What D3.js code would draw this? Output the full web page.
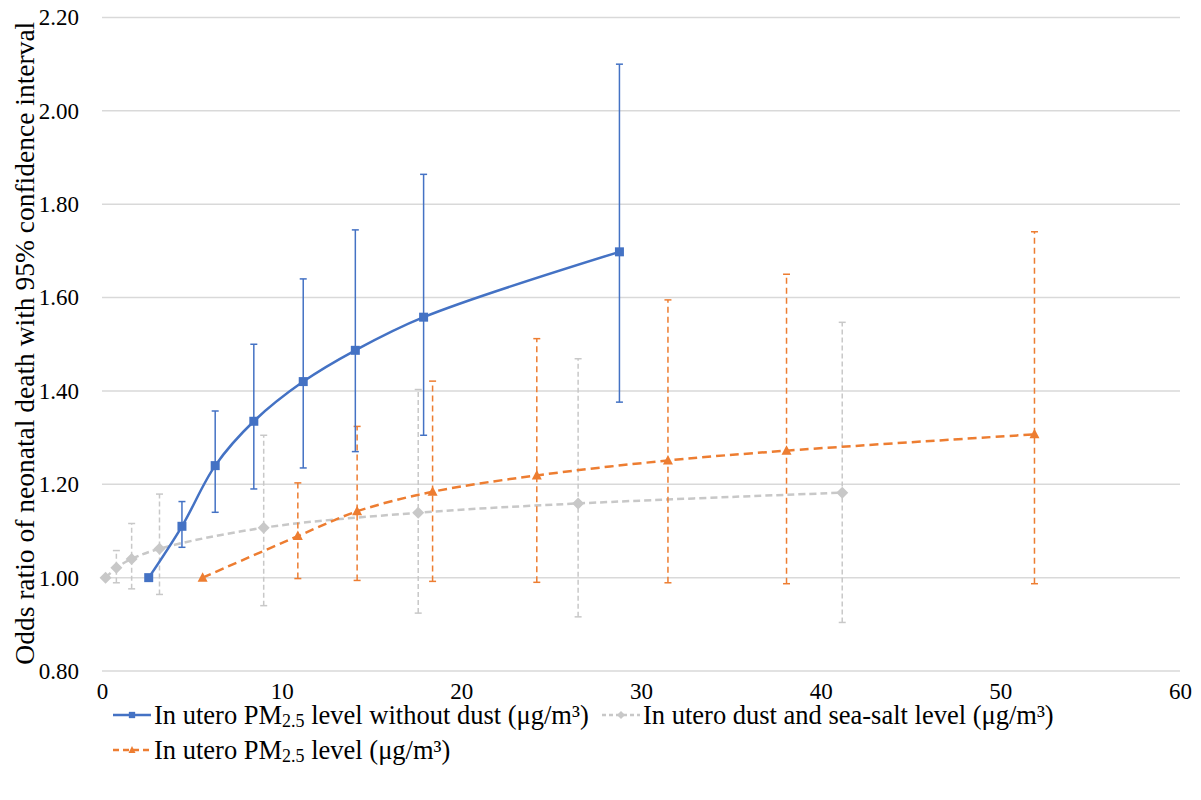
<!DOCTYPE html>
<html>
<head>
<meta charset="utf-8">
<script src="https://cdn.jsdelivr.net/npm/d3@7"></script>
<style>
  body { margin: 0; background: #fff; }
  svg { display: block; }
  text { font-family: "Liberation Serif", "Times New Roman", serif; fill: #000; }
</style>
</head>
<body>
<svg id="chart" width="1201" height="800"></svg>
<script>
// PM2.5 without dust (blue, solid)
const noDustX = [2.6, 4.45, 6.3, 8.45, 11.2, 14.1, 17.9, 28.8];
const noDustOR = [1.00, 1.11, 1.24, 1.335, 1.42, 1.487, 1.558, 1.698];
const noDustLo = [null, 1.065, 1.14, 1.19, 1.235, 1.27, 1.305, 1.376];
const noDustHi = [null, 1.163, 1.357, 1.50, 1.64, 1.745, 1.864, 2.10];

// dust and sea-salt (grey, dashed)
const dustX = [0.2, 0.8, 1.65, 3.2, 9.0, 17.6, 26.5, 41.2];
const dustOR = [1.00, 1.021, 1.04, 1.062, 1.107, 1.139, 1.159, 1.182];
const dustLo = [null, 0.989, 0.976, 0.964, 0.94, 0.924, 0.916, 0.904];
const dustHi = [null, 1.058, 1.116, 1.179, 1.305, 1.403, 1.469, 1.547];

// total PM2.5 (orange, dashed)
const pmX = [5.6, 10.9, 14.2, 18.4, 24.2, 31.5, 38.1, 51.9];
const pmOR = [1.00, 1.089, 1.142, 1.184, 1.219, 1.251, 1.272, 1.307];
const pmLo = [null, 0.998, 0.994, 0.992, 0.99, 0.989, 0.987, 0.987];
const pmHi = [null, 1.203, 1.324, 1.421, 1.512, 1.595, 1.65, 1.741];

const xTicks = [0, 10, 20, 30, 40, 50, 60];
const yTicks = [0.8, 1.0, 1.2, 1.4, 1.6, 1.8, 2.0, 2.2];

const BLUE = '#4472C4';
const ORANGE = '#ED7D31';
const GREY = '#C8C8C8';
const FONT = '"Liberation Serif", "Times New Roman", serif';

const svg = d3.select('#chart');
const x = d3.scaleLinear().domain([0, 60]).range([102, 1180]);
const y = d3.scaleLinear().domain([0.8, 2.2]).range([671, 17.5]);

// gridlines
svg.append('g')
  .selectAll('line')
  .data(yTicks)
  .join('line')
  .attr('x1', x(0)).attr('x2', x(60))
  .attr('y1', d => y(d)).attr('y2', d => y(d))
  .attr('stroke', '#D9D9D9')
  .attr('stroke-width', 1.5);

// axes (labels only) - swap d3's default sans-serif for the serif face
const yAxis = svg.append('g')
  .attr('transform', `translate(${x(0) - 20},0)`)
  .call(d3.axisLeft(y).tickValues(yTicks).tickFormat(d3.format('.2f')).tickSize(0));
yAxis.attr('font-family', FONT).attr('font-size', 23);
yAxis.select('.domain').remove();
yAxis.selectAll('text').style('font-family', FONT).style('font-size', '23px');

const xAxis = svg.append('g')
  .attr('transform', `translate(0,${y(0.8) + 9})`)
  .call(d3.axisBottom(x).tickValues(xTicks).tickFormat(d3.format('d')).tickSize(0));
xAxis.attr('font-family', FONT).attr('font-size', 23);
xAxis.select('.domain').remove();
xAxis.selectAll('text').style('font-family', FONT).style('font-size', '23px');

svg.append('text')
  .attr('transform', `translate(24,${(y(0.8) + y(2.2)) / 2 - 1}) rotate(-90)`)
  .attr('text-anchor', 'middle')
  .attr('dy', '0.35em')
  .style('font-family', FONT)
  .style('font-size', '27.5px')
  .text('Odds ratio of neonatal death with 95% confidence interval');

function series(xs, ors, los, his, color, lineDash, barDash, marker) {
  const pts = xs.map((v, i) => ({ x: v, or: ors[i], lo: los[i], hi: his[i] }));
  const g = svg.append('g');

  // error bars
  const bars = pts.filter(d => d.lo != null);
  g.selectAll('line.bar')
    .data(bars)
    .join('line')
    .attr('class', 'bar')
    .attr('x1', d => x(d.x)).attr('x2', d => x(d.x))
    .attr('y1', d => y(d.lo)).attr('y2', d => y(d.hi))
    .attr('stroke', color)
    .attr('stroke-width', 1.5)
    .attr('stroke-dasharray', barDash);
  ['lo', 'hi'].forEach(k => {
    g.selectAll('line.cap-' + k)
      .data(bars)
      .join('line')
      .attr('class', 'cap-' + k)
      .attr('x1', d => x(d.x) - 3.5).attr('x2', d => x(d.x) + 3.5)
      .attr('y1', d => y(d[k])).attr('y2', d => y(d[k]))
      .attr('stroke', color)
      .attr('stroke-width', 1.5);
  });

  const line = d3.line()
    .x(d => x(d.x))
    .y(d => y(d.or))
    .curve(d3.curveCatmullRom.alpha(0.5));
  g.append('path')
    .datum(pts)
    .attr('d', line)
    .attr('fill', 'none')
    .attr('stroke', color)
    .attr('stroke-width', 2.5)
    .attr('stroke-dasharray', lineDash);

  g.selectAll('path.marker')
    .data(pts)
    .join('path')
    .attr('class', 'marker')
    .attr('transform', d => `translate(${x(d.x)},${y(d.or)})`)
    .attr('d', marker)
    .attr('fill', color);
}

const square = d3.symbol(d3.symbolSquare, 81)();
const triangle = 'M0,-5.5L5,4L-5,4Z';
const diamond = 'M0,-6L6,0L0,6L-6,0Z';

series(dustX, dustOR, dustLo, dustHi, GREY, '7,4', '5,3', diamond);
series(pmX, pmOR, pmLo, pmHi, ORANGE, '9,5', '6,4', triangle);
series(noDustX, noDustOR, noDustLo, noDustHi, BLUE, null, null, square);

// legend
const legendItems = [
  { x: 113, y: 715, color: BLUE, dash: null, marker: d3.symbol(d3.symbolSquare, 40)(), pre: 'In utero PM', sub: '2.5', post: ' level without dust (μg/m³)' },
  { x: 602, y: 715, color: GREY, dash: '4,3', marker: 'M0,-4L4,0L0,4L-4,0Z', pre: 'In utero dust and sea-salt level (μg/m³)', sub: null, post: '' },
  { x: 113, y: 750, color: ORANGE, dash: '6,4', marker: 'M0,-4L3.5,3L-3.5,3Z', pre: 'In utero PM', sub: '2.5', post: ' level (μg/m³)' }
];
const lg = svg.append('g')
  .selectAll('g')
  .data(legendItems)
  .join('g')
  .attr('transform', d => `translate(${d.x},${d.y})`);
lg.append('line')
  .attr('x1', 0).attr('x2', 38)
  .attr('stroke', d => d.color)
  .attr('stroke-width', 2.5)
  .attr('stroke-dasharray', d => d.dash);
lg.append('path')
  .attr('transform', 'translate(19,0)')
  .attr('d', d => d.marker)
  .attr('fill', d => d.color);
const lt = lg.append('text')
  .attr('x', 41)
  .attr('dy', '0.35em')
  .style('font-family', FONT)
  .style('font-size', '26.5px');
lt.append('tspan').text(d => d.pre);
lt.filter(d => d.sub)
  .append('tspan')
  .attr('dy', 3)
  .style('font-size', '18px')
  .text(d => d.sub);
lt.filter(d => d.sub)
  .append('tspan')
  .attr('dy', -3)
  .text(d => d.post);
</script>
</body>
</html>
